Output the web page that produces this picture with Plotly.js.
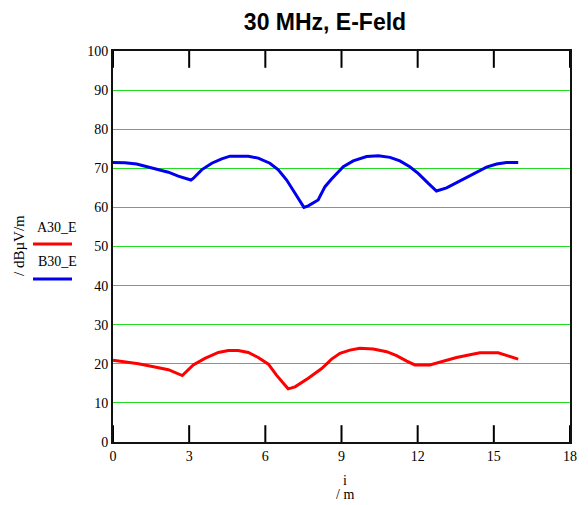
<!DOCTYPE html>
<html>
<head>
<meta charset="utf-8">
<script src="https://cdn.plot.ly/plotly-3.0.1.min.js"></script>
<style>html,body{margin:0;padding:0;background:#fff;}#chart{width:588px;height:505px;}</style>
</head>
<body>
<div id="chart"></div>
<script>
// Distance positions (m) and field strengths (dBµV/m)
var xA30 = [0, 0.47, 1.0, 1.65, 2.18, 2.73, 2.9, 3.16, 3.62, 4.15, 4.54, 4.93, 5.33, 5.72, 6.12, 6.44, 6.77, 6.9, 7.17, 7.69, 8.22, 8.61, 8.94, 9.33, 9.72, 10.25, 10.78, 11.17, 11.57, 11.89, 12.48, 13.0, 13.53, 14.06, 14.45, 15.17, 15.5, 15.96];
var yA30 = [20.9, 20.5, 20.0, 19.2, 18.5, 17.0, 18.0, 19.7, 21.4, 22.9, 23.4, 23.4, 22.9, 21.6, 19.9, 17.1, 14.6, 13.6, 14.1, 16.3, 18.8, 21.2, 22.7, 23.5, 24.0, 23.8, 23.1, 22.1, 20.7, 19.7, 19.7, 20.7, 21.6, 22.3, 22.8, 22.8, 22.1, 21.2];
var xB30 = [0, 0.47, 0.93, 1.33, 1.78, 2.18, 2.57, 3.07, 3.16, 3.49, 3.89, 4.28, 4.61, 5.33, 5.72, 6.18, 6.51, 6.84, 7.17, 7.52, 7.69, 8.08, 8.35, 8.6, 9.07, 9.46, 9.99, 10.45, 10.91, 11.30, 11.69, 12.02, 12.41, 12.74, 13.14, 13.53, 13.93, 14.32, 14.71, 15.11, 15.5, 15.96];
var yB30 = [71.5, 71.4, 71.1, 70.4, 69.7, 69.0, 68.0, 67.0, 67.4, 69.6, 71.3, 72.4, 73.1, 73.1, 72.6, 71.3, 69.6, 67.0, 63.6, 60.0, 60.4, 61.9, 65.3, 67.2, 70.4, 71.9, 73.0, 73.2, 72.8, 71.9, 70.4, 68.7, 66.2, 64.2, 65.0, 66.3, 67.7, 69.1, 70.3, 71.1, 71.5, 71.5];
var seriesNames = ["A30_E", "B30_E"];
var xTickVals = [0, 3, 6, 9, 12, 15, 18];
var yTickVals = [0, 10, 20, 30, 40, 50, 60, 70, 80, 90, 100];
var xRange = [0, 18];
var yRange = [0, 100];
var titleText = "30 MHz, E-Feld";
var yTitle = "/ dBµV/m";
var xTitleTop = "i";
var xTitleBottom = "/ m";

var W = 588, H = 505, L = 113, R = 18, T = 51, B = 63;
var pw = W - L - R, ph = H - T - B;
function px2x(p) { return (p - L) / pw; }
function px2y(p) { return (H - B - p) / ph; }

var serif = "Liberation Serif, Times New Roman, serif";
var red = "#ff0000", blue = "#0000ee";

// inside tick marks on the bottom and top frame (half of each marker is clipped by the plot area)
var tickMarker = {symbol: "line-ns", size: 24, color: "#000", line: {width: 2, color: "#000"}};

var traces = [
  {x: xA30, y: yA30, name: seriesNames[0], type: "scatter", mode: "lines", line: {color: red, width: 3}, showlegend: false},
  {x: xB30, y: yB30, name: seriesNames[1], type: "scatter", mode: "lines", line: {color: blue, width: 3}, showlegend: false},
  {x: xTickVals, y: xTickVals.map(function () { return yRange[0]; }), type: "scatter", mode: "markers", marker: tickMarker,
   showlegend: false, hoverinfo: "skip", cliponaxis: true},
  {x: xTickVals, y: xTickVals.map(function () { return yRange[1]; }), type: "scatter", mode: "markers", marker: tickMarker,
   showlegend: false, hoverinfo: "skip", cliponaxis: true}
];

var layout = {
  width: W, height: H,
  margin: {l: L, r: R, t: T, b: B},
  title: {text: titleText, font: {family: "Liberation Sans, Arial, sans-serif", size: 23, color: "#000", weight: "bold"},
          xref: "paper", x: px2x(325), xanchor: "center", yref: "container", y: 1 - 22 / H, yanchor: "middle"},
  xaxis: {range: xRange, tickvals: xTickVals, ticktext: xTickVals.map(String), ticks: "",
          showline: true, linecolor: "#111", linewidth: 2, mirror: true, showgrid: false, zeroline: false,
          tickfont: {family: serif, size: 14, color: "#000"}},
  yaxis: {range: yRange, tickvals: yTickVals, ticktext: yTickVals.map(String), showline: true, linecolor: "#111", linewidth: 2, mirror: true,
          showgrid: true, gridcolor: "#22dd22", gridwidth: 1.2, zeroline: false,
          tickfont: {family: serif, size: 14, color: "#000"}},
  annotations: [
    {xref: "paper", yref: "paper", x: px2x(19), y: px2y(246), text: yTitle, textangle: -90, showarrow: false,
     font: {family: serif, size: 15, color: "#000"}, xanchor: "center", yanchor: "middle"},
    {xref: "paper", yref: "paper", x: px2x(57), y: px2y(227), text: seriesNames[0], showarrow: false,
     font: {family: serif, size: 14, color: "#000"}, xanchor: "center", yanchor: "middle"},
    {xref: "paper", yref: "paper", x: px2x(57), y: px2y(261), text: seriesNames[1], showarrow: false,
     font: {family: serif, size: 14, color: "#000"}, xanchor: "center", yanchor: "middle"},
    {xref: "paper", yref: "paper", x: px2x(345), y: px2y(480), text: xTitleTop, showarrow: false, height: 12,
     font: {family: serif, size: 14, color: "#000"}, xanchor: "center", yanchor: "middle"},
    {xref: "paper", yref: "paper", x: px2x(345), y: px2y(494), text: xTitleBottom, showarrow: false, height: 12,
     font: {family: serif, size: 14, color: "#000"}, xanchor: "center", yanchor: "middle"}
  ],
  shapes: [
    {type: "line", xref: "paper", yref: "paper", x0: px2x(33), x1: px2x(72), y0: px2y(244), y1: px2y(244), line: {color: red, width: 3}},
    {type: "line", xref: "paper", yref: "paper", x0: px2x(33), x1: px2x(72), y0: px2y(279), y1: px2y(279), line: {color: blue, width: 3}}
  ]
};

Plotly.newPlot("chart", traces, layout, {displayModeBar: false});
</script>
</body>
</html>
